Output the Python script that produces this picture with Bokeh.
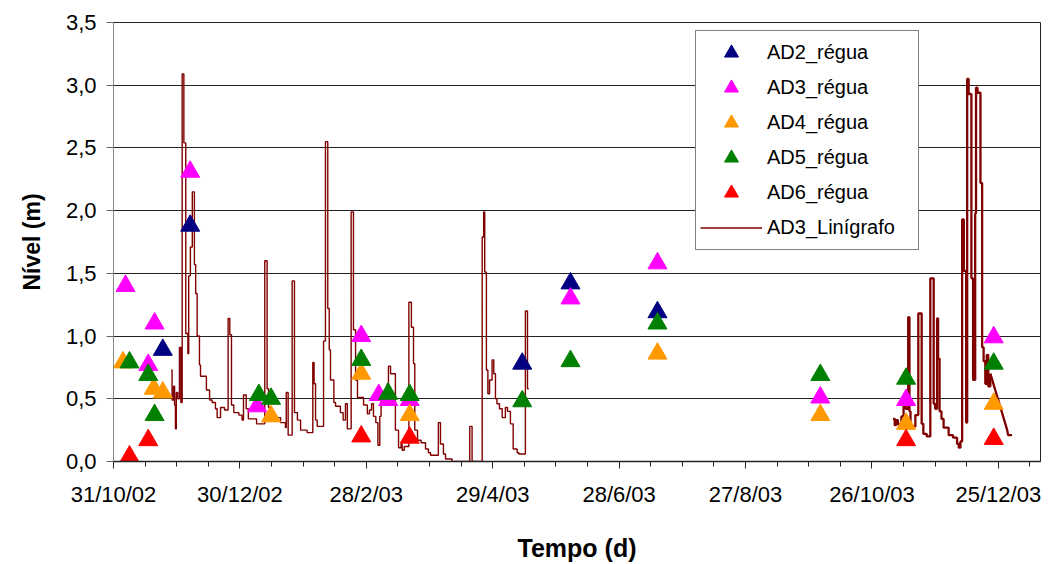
from bokeh.plotting import figure
from bokeh.models import Range1d, FixedTicker, CustomJSTickFormatter, Legend, LegendItem
from bokeh.embed import file_html
from bokeh.resources import INLINE

# x values are days since 31/10/02
tick_days = [0, 60, 120, 180, 240, 300, 360, 420]
tick_labels = ["31/10/02", "30/12/02", "28/2/03", "29/4/03", "28/6/03", "27/8/03", "26/10/03", "25/12/03"]
minor_days = list(range(0, 436, 15))
y_ticks = [0.0, 0.5, 1.0, 1.5, 2.0, 2.5, 3.0, 3.5]

ad2_day = [23.4, 36.4, 194.0, 216.9, 258.2]
ad2_lvl = [0.89, 1.88, 0.78, 1.42, 1.19]

ad3_day = [5.7, 16.5, 19.5, 36.4, 68.2, 117.6, 125.9, 130.4, 140.6, 216.9, 258.2, 335.5, 376.2, 417.8]
ad3_lvl = [1.40, 0.77, 1.10, 2.31, 0.44, 1.00, 0.53, 0.49, 0.49, 1.30, 1.58, 0.51, 0.49, 0.99]

ad4_day = [4.5, 19.1, 23.4, 74.8, 117.6, 140.6, 258.2, 335.5, 376.2, 417.8]
ad4_lvl = [0.79, 0.58, 0.55, 0.36, 0.70, 0.37, 0.86, 0.37, 0.30, 0.46]

ad5_day = [7.6, 16.5, 19.5, 69.0, 74.8, 117.6, 130.4, 140.6, 194.0, 216.9, 258.2, 335.5, 376.2, 417.8]
ad5_lvl = [0.79, 0.69, 0.37, 0.53, 0.50, 0.81, 0.54, 0.53, 0.48, 0.80, 1.10, 0.69, 0.66, 0.78]

ad6_day = [7.6, 16.5, 117.6, 140.6, 376.2, 417.8]
ad6_lvl = [0.04, 0.17, 0.20, 0.19, 0.17, 0.18]

# AD3_Linígrafo, first period (level changes)
lin1_day = [27.4, 27.8, 28.5, 29.0, 29.4, 29.8, 30.5, 31.3, 32.0, 32.6, 33.4, 34.3, 35.3, 35.7, 36.5,
            37.4, 38.4, 39.0, 39.7, 40.8, 41.3, 44.1, 45.6, 46.8, 48.4, 49.2, 50.8, 52.7, 54.4, 55.2,
            56.0, 57.1, 59.5, 61.0, 61.7, 63.0, 64.0, 67.9, 71.8, 72.9, 73.6, 74.5, 76.0, 79.3, 81.6,
            82.0, 82.9, 84.8, 85.9, 87.3, 88.8, 91.9, 94.6, 95.2, 95.9, 96.7, 99.7, 100.6, 101.7, 102.4,
            103.0, 104.6, 105.4, 107.7, 109.0, 110.1, 111.0, 112.8, 113.9, 114.9, 115.8, 118.7, 120.5, 121.5, 122.5,
            123.4, 124.5, 125.5, 126.4, 127.0, 128.0, 129.9, 130.5, 131.5, 133.8, 135.3, 136.5, 137.0, 138.0, 140.2,
            141.4, 142.4, 143.0, 144.3, 146.0, 148.1, 149.5, 150.5, 154.2, 155.2, 156.6, 157.6, 160.7, 169.1, 170.2,
            175.0, 175.7, 176.2, 177.0, 177.7, 178.5, 179.7, 180.5, 181.3, 182.0, 183.2, 184.5, 186.0, 187.0, 188.4,
            189.7, 191.6, 192.4, 195.5, 196.5, 197.1]
lin1_lvl = [0.73, 0.49, 0.60, 0.45, 0.26, 0.55, 0.50, 0.91, 0.47, 3.09, 2.54, 1.02, 0.86, 1.48, 1.71,
            2.15, 1.57, 1.34, 1.00, 0.77, 0.68, 0.57, 0.49, 0.47, 0.42, 0.35, 0.43, 0.41, 1.14, 1.01,
            0.45, 0.39, 0.37, 0.33, 0.53, 0.42, 0.34, 0.30, 1.60, 0.58, 0.43, 0.40, 0.35, 0.31, 0.27,
            0.55, 0.21, 1.44, 0.39, 0.33, 0.25, 0.23, 0.79, 0.62, 0.33, 0.28, 0.96, 2.55, 1.22, 0.89,
            0.65, 0.47, 0.44, 0.39, 0.33, 0.46, 0.26, 1.99, 1.05, 0.65, 0.51, 0.45, 0.38, 0.41, 0.46,
            0.36, 0.31, 0.13, 0.36, 0.49, 0.55, 0.62, 0.76, 0.70, 0.25, 0.11, 0.14, 0.09, 0.12, 1.27,
            1.07, 0.78, 0.25, 0.17, 0.15, 0.10, 0.07, 0.05, 0.31, 0.14, 0.06, 0.02, 0.00, 0.28, 0.00,
            1.79, 1.99, 1.51, 0.73, 0.54, 0.65, 0.81, 0.70, 0.50, 0.46, 0.42, 0.35, 0.43, 0.40, 0.30,
            0.10, 0.07, 0.06, 1.20, 0.58, 0.58]

# AD3_Linígrafo, second period (level changes)
lin2_day = [370.0, 370.8, 371.5, 372.3, 373.0, 374.0, 375.0, 376.0, 377.2, 377.8, 378.3, 380.6, 382.0, 383.6, 384.4,
            386.0, 387.7, 389.3, 390.0, 390.9, 391.4, 392.1, 393.0, 394.0, 396.4, 398.5, 400.4, 401.2, 402.0, 402.8,
            403.6, 404.7, 405.2, 405.9, 407.2, 408.0, 409.0, 409.4, 410.1, 411.5, 412.3, 413.0, 413.8, 414.5, 415.2,
            416.2]
lin2_lvl = [0.34, 0.29, 0.33, 0.30, 0.27, 0.36, 0.45, 0.42, 1.15, 0.40, 0.28, 0.37, 1.18, 0.30, 0.22,
            0.20, 1.46, 0.46, 0.42, 1.14, 0.82, 0.40, 0.34, 0.27, 0.21, 0.19, 0.14, 0.11, 0.16, 1.93,
            1.52, 0.31, 3.05, 2.93, 1.46, 0.65, 1.98, 2.98, 2.94, 2.22, 0.91, 0.80, 0.62, 0.85, 0.60,
            0.70]
# final recession (straight segments)
lin3_day = [416.2, 424.2, 424.6, 426.5]
lin3_lvl = [0.70, 0.25, 0.21, 0.21]

FONT = "Liberation Sans"
LINE_COLOR = "#800000"

p = figure(width=1057, height=564, output_backend="svg", toolbar_location=None,
           x_range=Range1d(0, 440), y_range=Range1d(0, 3.5),
           min_border_left=113, min_border_right=17, min_border_top=22, min_border_bottom=103,
           background_fill_color="white", border_fill_color="white")

rl1 = p.step(lin1_day, lin1_lvl, mode="after", line_color=LINE_COLOR, line_width=1.4)
rl2 = p.step(lin2_day, lin2_lvl, mode="after", line_color=LINE_COLOR, line_width=2.3)
rl3 = p.line(lin3_day, lin3_lvl, line_color=LINE_COLOR, line_width=2.3)

MS = 19
r2 = p.scatter(ad2_day, ad2_lvl, marker="triangle", size=MS, fill_color="#000080", line_color="#000080")
r3 = p.scatter(ad3_day, ad3_lvl, marker="triangle", size=MS, fill_color="#FF00FF", line_color="#FF00FF")
r4 = p.scatter(ad4_day, ad4_lvl, marker="triangle", size=MS, fill_color="#FF9900", line_color="#FF9900")
r5 = p.scatter(ad5_day, ad5_lvl, marker="triangle", size=MS, fill_color="#008000", line_color="#008000")
r6 = p.scatter(ad6_day, ad6_lvl, marker="triangle", size=MS, fill_color="#FF0000", line_color="#FF0000")

# axes
xa = p.xaxis[0]
xa.ticker = FixedTicker(ticks=tick_days, minor_ticks=minor_days)
xa.formatter = CustomJSTickFormatter(args=dict(days=tick_days, labels=tick_labels),
                                     code="const i = days.indexOf(Math.round(tick)); return i >= 0 ? labels[i] : '';")
xa.axis_line_color = "#222222"
xa.axis_line_width = 1.5
xa.major_tick_out = 7
xa.major_tick_in = 0
xa.minor_tick_out = 5
xa.minor_tick_in = 0
xa.major_tick_line_color = "#222222"
xa.minor_tick_line_color = "#222222"
xa.major_label_text_font = FONT
xa.major_label_text_font_size = "22px"
xa.major_label_text_color = "black"
xa.major_label_standoff = 13
xa.axis_label = "Tempo (d)"
xa.axis_label_text_font = FONT
xa.axis_label_text_font_style = "bold"
xa.axis_label_text_font_size = "25px"
xa.axis_label_text_color = "black"
xa.axis_label_standoff = 24

ya = p.yaxis[0]
ya.ticker = FixedTicker(ticks=y_ticks, minor_ticks=[])
ya.formatter = CustomJSTickFormatter(code="return tick.toFixed(1).replace('.', ',');")
ya.axis_line_color = "#888888"
ya.major_tick_out = 7
ya.major_tick_in = 0
ya.minor_tick_out = 0
ya.minor_tick_in = 0
ya.major_tick_line_color = "#666666"
ya.major_label_text_font = FONT
ya.major_label_text_font_size = "22px"
ya.major_label_text_color = "black"
ya.major_label_standoff = 10
ya.axis_label = "Nível (m)"
ya.axis_label_text_font = FONT
ya.axis_label_text_font_style = "bold"
ya.axis_label_text_font_size = "23px"
ya.axis_label_text_color = "black"
ya.axis_label_standoff = 18

p.xgrid.grid_line_color = None
p.ygrid.grid_line_color = "#222222"
p.ygrid.grid_line_width = 1
p.outline_line_color = "#222222"
p.outline_line_width = 1

legend = Legend(items=[
    LegendItem(label="AD2_régua", renderers=[r2]),
    LegendItem(label="AD3_régua", renderers=[r3]),
    LegendItem(label="AD4_régua", renderers=[r4]),
    LegendItem(label="AD5_régua", renderers=[r5]),
    LegendItem(label="AD6_régua", renderers=[r6]),
    LegendItem(label="AD3_Linígrafo", renderers=[rl1]),
], location=(582, 211))
legend.border_line_color = "black"
legend.border_line_width = 1
legend.background_fill_color = "white"
legend.background_fill_alpha = 1.0
legend.label_text_font = FONT
legend.label_text_font_size = "20px"
legend.label_text_color = "black"
legend.glyph_width = 62
legend.glyph_height = 35
legend.label_height = 35
legend.label_width = 147
legend.label_standoff = 5
legend.padding = 4
legend.spacing = 0
legend.margin = 0
p.add_layout(legend)

open("out.html", "w").write(file_html(p, INLINE))
